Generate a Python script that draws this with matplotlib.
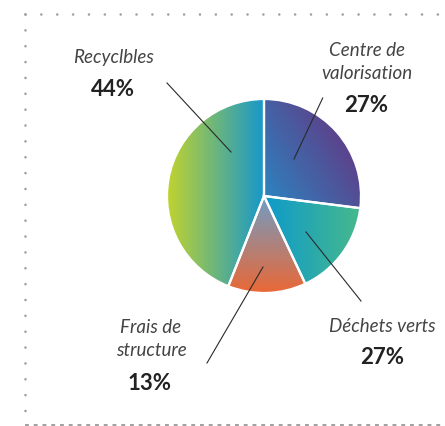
import numpy as np
import matplotlib.pyplot as plt
from matplotlib.colors import LinearSegmentedColormap

# pie data (clockwise from 12 o'clock)
categories = ['Centre de\nvalorisation', 'Déchets verts', 'Frais de\nstructure', 'Recyclbles']
shares = [27, 16, 13, 44]
pct_labels = ['27%', '27%', '13%', '44%']

# gradient colours (start, end, direction in degrees)
grads = [('#2a86c2', '#6e2a78', 35),
         ('#0e9acb', '#47b98c', 0),
         ('#6f9dc6', '#ea6836', -90),
         ('#c6d52a', '#1798cb', 0)]

W, H = 445, 426


def Y(y):
    return H - y


fig = plt.figure(figsize=(W / 100, H / 100), dpi=100)
ax = fig.add_axes([0, 0, 1, 1])

cx, cy, r = 264, 196, 97
wedges, _ = ax.pie(shares, center=(cx, Y(cy)), radius=r, startangle=90,
                   counterclock=False, frame=True,
                   wedgeprops=dict(edgecolor='white', linewidth=1.6))

for w, (c0, c1, ang) in zip(wedges, grads):
    v = w.get_path().vertices
    x0, x1 = v[:, 0].min(), v[:, 0].max()
    y0, y1 = v[:, 1].min(), v[:, 1].max()
    xx, yy = np.meshgrid(np.linspace(0, 1, 200), np.linspace(0, 1, 200))
    a = np.deg2rad(ang)
    t = xx * np.cos(a) + yy * np.sin(a)
    t = (t - t.min()) / (t.max() - t.min())
    cmap = LinearSegmentedColormap.from_list('g', [c0, c1])
    im = ax.imshow(t, cmap=cmap, extent=(x0, x1, y0, y1), origin='lower',
                   aspect='auto', interpolation='bilinear', zorder=1)
    im.set_clip_path(w)
    w.set_facecolor('none')
    w.set_zorder(2)

# leader lines
leaders = [((322.7, 98), (294, 159)),
           ((361, 301), (306, 232)),
           ((207, 363), (263, 267)),
           ((167, 83), (231, 152))]
for (xa, ya), (xb, yb) in leaders:
    ax.plot([xa, xb], [Y(ya), Y(yb)], color='#2a2a2a', lw=0.8, zorder=3)

# labels
name_pos = [(367, 62), (382, 327), (151, 339), (114, 58)]
pct_pos = [(366, 106), (382, 358), (150, 383), (113, 90)]
for name, pct, (nx, ny), (px, py) in zip(categories, pct_labels, name_pos, pct_pos):
    ax.text(nx, Y(ny), name, ha='center', va='center', fontsize=13.5,
            family='Lato', style='italic', weight='normal', color='#444444',
            linespacing=1.4)
    ax.text(px, Y(py), pct, ha='center', va='center', fontsize=16,
            family='Lato', weight='bold', color='#222222')

# dotted frame
dot = dict(color='#a0a0a0', lw=1.9, solid_capstyle='round', dash_capstyle='round')
ax.plot([25, 442], [Y(14), Y(14)], linestyle=(0, (0.01, 6.0)), **dot)
ax.plot([25, 25], [Y(14), Y(420)], linestyle=(0, (0.01, 6.0)), **dot)
ax.plot([25, 445], [Y(425), Y(425)], color='#a0a0a0', lw=1.4,
        linestyle=(0, (2.0, 2.5)))

ax.set_xlim(0, W)
ax.set_ylim(0, H)
ax.set_axis_off()

fig.savefig('out.png', dpi=100)
